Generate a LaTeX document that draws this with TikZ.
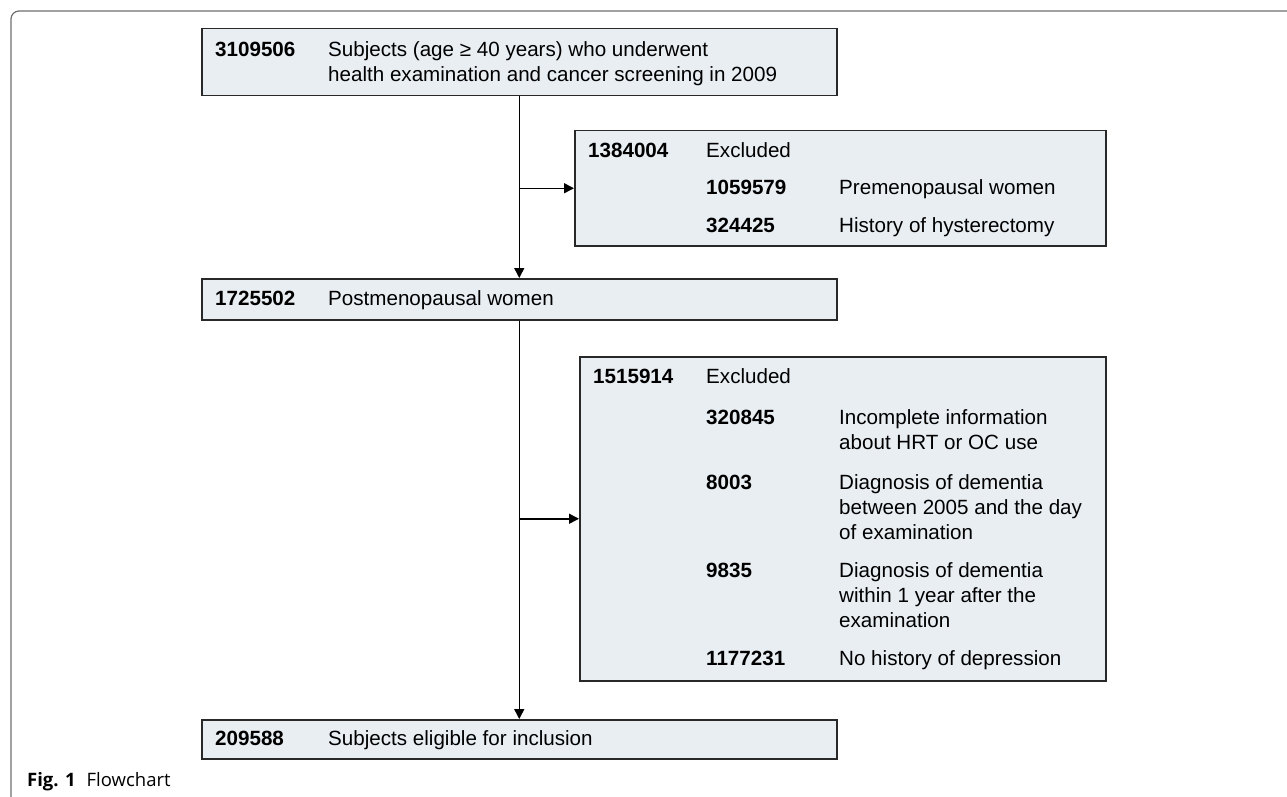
\documentclass[tikz,border=0pt]{standalone}
\usepackage{fontspec}
\setmainfont{Liberation Sans}
\newfontfamily\capfont{Open Sans}
\usetikzlibrary{arrows.meta,positioning}
\definecolor{boxfill}{RGB}{233,238,243}
\definecolor{boxline}{RGB}{40,40,40}
\definecolor{frameline}{RGB}{110,110,110}
\newcommand{\flowfont}{\fontsize{20.6}{25}\selectfont}

\begin{document}
\begin{tikzpicture}[x=1pt,y=-1pt,
    box/.style={draw=boxline,fill=boxfill,line width=1.5pt,inner sep=0pt,anchor=north west},
    num/.style={anchor=base west,inner sep=0pt,font=\flowfont\bfseries},
    txt/.style={anchor=base west,inner sep=0pt,align=left,font=\flowfont},
    flow/.style={line width=1.5pt,-{Triangle[length=10pt,width=10pt]}}]
  \useasboundingbox (0,0) rectangle (1287,797);

  % frame
  \draw[frameline,line width=1.2pt,rounded corners=8pt] (11,797) -- (11,11) -- (1287,11);

  % subjects (text node sits on the baseline of its last line)
  \node[box,minimum width=635pt,minimum height=67pt] (subj) at (201,28) {};
  \node[num] (subjn) at (215,56.5) {3109506};
  \node[txt] (subjt) at (328,81.5) {Subjects (age ≥ 40 years) who underwent\\health examination and cancer screening in 2009};

  % first exclusion
  \node[box,minimum width=531pt,minimum height=115pt] (exone) at (574,130) {};
  \node[num] (exonen) at (588,157.5) {1384004};
  \node[txt] (exonet) at (706,157.5) {Excluded};
  \foreach \y/\n/\t [count=\i] in
  {194.5/1059579/Premenopausal women,232.5/324425/History of hysterectomy}{
    \node[num] (exonen\i) at (706,\y) {\n};
    \node[txt] (exonet\i) at (839,\y) {\t};
  }

  % postmenopausal
  \node[box,minimum width=635pt,minimum height=41pt] (post) at (201,278) {};
  \node[num] (postn) at (215,305.5) {1725502};
  \node[txt] (postt) at (328,305.5) {Postmenopausal women};

  % second exclusion
  \node[box,minimum width=526pt,minimum height=324pt] (extwo) at (579,356) {};
  \node[num] (extwon) at (593,383) {1515914};
  \node[txt] (extwot) at (706,383) {Excluded};
  \foreach \y/\z/\n/\t [count=\i] in
  {424.5/449.5/320845/{Incomplete information\\about HRT or OC use},
   489.5/539.5/8003/{Diagnosis of dementia\\between 2005 and the day\\of examination},
   577.5/627.5/9835/{Diagnosis of dementia\\within 1 year after the\\examination},
   665.5/665.5/1177231/{No history of depression}}{
    \node[num] (extwon\i) at (706,\y) {\n};
    \node[txt] (extwot\i) at (839,\z) {\t};
  }

  % eligible
  \node[box,minimum width=635pt,minimum height=39pt] (elig) at (201,719) {};
  \node[num] (eligEn) at (215,745.5) {209588};
  \node[txt] (eligt) at (328,745.5) {Subjects eligible for inclusion};

  % arrows
  \draw[flow] (subj) -- (post);
  \draw[flow] (post) -- (elig);
  \draw[flow] (subj.south |- exone.west) -- (exone.west);
  \draw[flow] (post.south |- extwo.west) -- (extwo.west);

  % caption
  \node[anchor=base west,inner sep=0pt,font=\capfont\fontsize{18.5}{21}\selectfont] (caption) at (27,786)
    {\textbf{Fig. 1}\hspace{11pt}Flowchart};
\end{tikzpicture}
\end{document}
